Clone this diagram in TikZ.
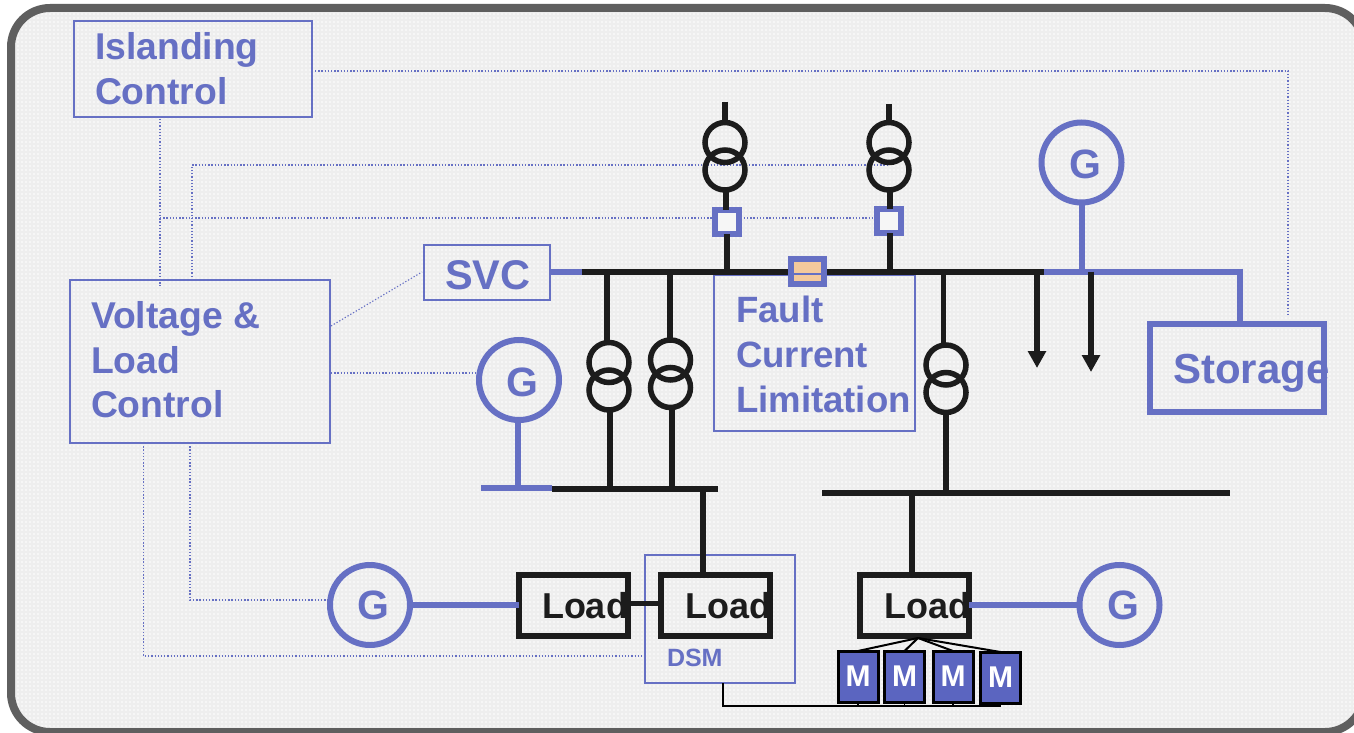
\documentclass[tikz,border=0pt]{standalone}
\usepackage{fontspec}
\setmainfont{Liberation Sans}
\usetikzlibrary{arrows.meta,calc}
\definecolor{bg}{HTML}{F6F6F6}
\definecolor{gridc}{HTML}{EEEEEE}
\definecolor{frameg}{HTML}{5F5F5F}
\definecolor{blu}{HTML}{6670C4}
\definecolor{mfill}{HTML}{5B65C0}
\definecolor{blk}{HTML}{1C1C1C}
\definecolor{org}{HTML}{F5C99C}
\tikzset{
  ctl/.style={draw=blu,line width=1.1pt,dash pattern=on 1.3pt off 1.9pt},
  thinbox/.style={draw=blu,line width=2pt,rectangle,inner sep=0pt,outer sep=0pt},
  txtb/.style={anchor=base west,inner sep=0pt,outer sep=0pt,text=blu,font=\bfseries\fontsize{37.3}{37.3}\selectfont},
  txtf/.style={txtb,font=\bfseries\fontsize{36.6}{36.6}\selectfont},
  txtc/.style={anchor=center,inner sep=0pt,outer sep=0pt,text=blu,font=\bfseries\fontsize{41}{41}\selectfont},
  txtk/.style={anchor=base west,inner sep=0pt,outer sep=0pt,text=blk,font=\bfseries\fontsize{36}{36}\selectfont},
  bus/.style={draw=blk,line width=6pt},
  bluebus/.style={draw=blu,line width=6pt},
  feeder/.style={draw=blk,line width=5.5pt},
  coil/.style={draw=blk,line width=5.5pt,circle,minimum size=40pt,inner sep=0pt,outer sep=0pt},
  gen/.style={draw=blu,line width=6pt,circle,minimum size=80pt,inner sep=0pt,outer sep=0pt},
  breaker/.style={draw=blu,line width=6pt,fill=bg,rectangle,minimum size=24pt,inner sep=0pt,outer sep=0pt},
  loadbox/.style={draw=blk,line width=6pt,rectangle,minimum width=109pt,minimum height=61pt,inner sep=0pt,outer sep=0pt},
  motor/.style={draw=black,line width=3pt,fill=mfill,rectangle,minimum width=40pt,minimum height=51pt,inner sep=0pt,outer sep=0pt,text=white,font=\bfseries\fontsize{30}{30}\selectfont},
  thinblack/.style={draw=black,line width=2pt},
  dropline/.style={draw=blk,line width=5.5pt,-{Triangle[width=17.5pt,length=17pt]}}
}
\begin{document}
\begin{tikzpicture}[x=1pt,y=-1pt]
\useasboundingbox (0,0) rectangle (1354,733);
\fill[white] (0,0) rectangle (1354,733);
\begin{scope}
\clip (0,0) rectangle (1354,733);
\fill[bg,rounded corners=39pt] (11,8) rectangle (1364,732);
\begin{scope}
\clip[rounded corners=39pt] (11,8) rectangle (1364,732);
\draw[draw=gridc,line width=1.6pt,xstep=4pt,ystep=4pt] (8,736) grid (1368,4);
\end{scope}
\draw[draw=frameg,line width=8pt,rounded corners=39pt] (11,8) rectangle (1364,732);
\end{scope}

% boxes (thin blue)
\node[thinbox,minimum width=238pt,minimum height=96pt] (isl) at (193,69) {};
\node[thinbox,minimum width=260pt,minimum height=163pt] (vlc) at (200,361.5) {};
\node[thinbox,minimum width=126pt,minimum height=55pt] (svc) at (487,272.5) {};
\node[thinbox,minimum width=201pt,minimum height=156pt] (fcl) at (814.5,353) {};
\node[thinbox,minimum width=150pt,minimum height=128pt] (dsm) at (720,619) {};

% named junctions
\coordinate (ctlA) at (1288,71);
\coordinate (ctlB) at (1288,317);
\coordinate (islOut) at (315,71);
\coordinate (islDown) at (160,119);
\coordinate (vlcIn) at (160,286);
\coordinate (ctlTap) at (160,218);
\coordinate (vlcTop) at (192,280);
\coordinate (ctlC) at (192,165);
\coordinate (ctlD) at (889,165);
\coordinate (vlcSvc) at (331,326);
\coordinate (svcIn) at (422,272);
\coordinate (vlcG) at (331,373);
\coordinate (gIn) at (476,373);
\coordinate (vlcL1) at (190,443);
\coordinate (ctlE) at (190,600);
\coordinate (gLow) at (328,600);
\coordinate (vlcL2) at (143.5,443);
\coordinate (ctlF) at (143.5,656);
\coordinate (dsmIn) at (645,656);

% generators
\node[gen] (g1) at (1081.5,162.5) {};
\node[gen] (g2) at (519,380) {};
\node[gen] (g3) at (370,605) {};
\node[gen] (g4) at (1119.5,605) {};

% control lines
\coordinate (ctlG) at (715,218);
\coordinate (ctlH) at (877,218);
\draw[ctl] (islOut) -- (ctlA) -- (ctlB);
\draw[ctl] (islDown) -- (vlcIn);
\draw[ctl] (ctlTap) -- (ctlG);
\draw[ctl] (ctlG) -- (ctlH);
\draw[ctl] (vlcTop) -- (ctlC) -- (ctlD);
\draw[ctl] (vlcSvc) -- (svcIn);
\draw[ctl] (vlcG) -- (gIn);
\draw[ctl] (vlcL1) -- (ctlE) -- (gLow);
\draw[ctl] (vlcL2) -- (ctlF) -- (dsmIn);

% breakers
\node[breaker] (br1) at (727,222) {};
\node[breaker] (br2) at (889,221) {};

% bus coordinates
\coordinate (busAw) at (582,271.5);
\coordinate (busAe) at (1110,271.5);
\coordinate (svcOut) at (551,271.5);
\coordinate (stoW) at (1044,271.5);
\coordinate (stoC) at (1239.5,271.5);
\coordinate (busBw) at (552,489);
\coordinate (busBe) at (718,489);
\coordinate (blueBw) at (481,488);
\coordinate (blueBe) at (552,488);
\coordinate (busCw) at (822,493);
\coordinate (busCe) at (1230,493);

% transformers
\node[coil] (t1a) at (725,142.5) {};
\node[coil] (t1b) at (725,170) {};
\node[coil] (t2a) at (889,142.5) {};
\node[coil] (t2b) at (889,170) {};
\node[coil] (t3a) at (609,362.5) {};
\node[coil] (t3b) at (609,390) {};
\node[coil] (t4a) at (670.5,360) {};
\node[coil] (t4b) at (670.5,387.5) {};
\node[coil] (t5a) at (946,365) {};
\node[coil] (t5b) at (946,392.5) {};

% upper stubs
\coordinate (u1) at (725,102);
\coordinate (u2) at (889,104);
\draw[feeder] (u1) -- (t1a.north);
\draw[feeder] (u2) -- (t2a.north);
% feeders
\draw[feeder] (726,192) -- (726,210);
\draw[feeder] (br1.south) -- (br1.south |- busAw);
\draw[feeder] (890,192) -- (890,209);
\draw[feeder] (br2.south) ++(1,0) -- (890,271.5);
\draw[feeder] (607,271.5) -- (607,342);
\draw[feeder] (610,411) -- (610,489);
\draw[feeder] (670,271.5) -- (670,339);
\draw[feeder] (672,408) -- (672,489);
\draw[feeder] (943.5,271.5) -- (943.5,344);
\draw[feeder] (946,413) -- (946,493);
\draw[feeder] (703,489) -- (703,572);
\draw[feeder] (912,493) -- (912,572);

% buses
\draw[bus] (busAw) -- (busAe);
\draw[bus] (busBw) -- (busBe);
\draw[bus] (busCw) -- (busCe);
\draw[bluebus] (svcOut) -- (busAw);
\draw[bluebus] (blueBw) -- (blueBe);
\draw[bluebus] (stoW) -- (stoC);
\draw[draw=blu,line width=6pt] (g1.south) -- (g1.south |- stoC);
\draw[draw=blu,line width=6pt] (g2.south) ++(-1,0) -- (518,488);

% load arrows
\coordinate (dr1) at (1037,271.5);
\coordinate (dr1e) at (1037,368);
\coordinate (dr2) at (1091,271.5);
\coordinate (dr2e) at (1091,372);
\draw[dropline] (dr1) -- (dr1e);
\draw[dropline] (dr2) -- (dr2e);

% fault limiter
\node[draw=blu,line width=6pt,fill=org,rectangle,minimum width=33pt,minimum height=25pt,inner sep=0pt,outer sep=0pt] (lim) at (807.5,271.5) {};
\draw[draw=blu,line width=2pt] (lim.west |- 0,274) -- (lim.east |- 0,274);

% storage
\node[draw=blu,line width=6pt,rectangle,minimum width=174pt,minimum height=88pt,inner sep=0pt,outer sep=0pt] (sto) at (1237,368) {};
\draw[draw=blu,line width=6pt] (stoC) ++(0,-3) -- (stoC |- sto.north);

% loads
\node[loadbox] (l1) at (573,605.5) {};
\node[loadbox] (l2) at (715.5,605.5) {};
\node[loadbox] (l3) at (914.5,605.5) {};
\draw[feeder] (l1.east |- 0,603.5) -- (l2.west |- 0,603.5);
\draw[draw=blu,line width=6pt] (g3.east |- 0,604.5) -- (l1.west |- 0,604.5);
\draw[draw=blu,line width=6pt] (l3.east |- 0,605) -- (g4.west |- 0,605);

% motors
\node[motor] (m1) at (858,676.5) {M};
\node[motor] (m2) at (904.5,676.5) {M};
\node[motor] (m3) at (953,676.5) {M};
\node[motor] (m4) at (1000.5,677.5) {M};
\coordinate (fan) at (918,638);
\draw[thinblack] (fan) -- (m1.north);
\draw[thinblack] (fan) -- (m2.north);
\draw[thinblack] (fan) -- (m3.north);
\draw[thinblack] (fan) -- (m4.north);
\coordinate (dsmB) at (723,683);
\coordinate (dsmC) at (723,706);
\coordinate (dsmD) at (1000.5,706);
\draw[draw=black,line width=2.5pt] (dsmB) -- (dsmC) -- (dsmD);
\draw[draw=black,line width=1.5pt] (m1.south) -- (m1.south |- dsmC);
\draw[draw=black,line width=1.5pt] (m2.south) -- (m2.south |- dsmC);
\draw[draw=black,line width=1.5pt] (m3.south) -- (m3.south |- dsmC);
\draw[draw=black,line width=1.5pt] (m4.south) -- (m4.south |- dsmC);

% labels
\node[txtb] (tIsl) at (95,60) {Islanding};
\node[txtb] (tCtl) at (95,105) {Control};
\node[txtb] (tVol) at (91,328) {Voltage \&};
\node[txtb] (tLd) at (91,373) {Load};
\node[txtb] (tCt2) at (91,417) {Control};
\node[txtf] (tFau) at (736,322) {Fault};
\node[txtf] (tCur) at (736,367) {Current};
\node[txtf] (tLim) at (736,412) {Limitation};
\node[txtb,font=\bfseries\fontsize{41.5}{41.5}\selectfont] (tSvc) at (445,289) {SVC};
\node[txtb,font=\bfseries\fontsize{42}{42}\selectfont] (tSto) at (1173,383) {Storage};
\node[txtb,font=\bfseries\fontsize{25}{25}\selectfont] (tDsm) at (667,666) {DSM};
\node[txtc] (tg1) at (1085,164) {G};
\node[txtc] (tg2) at (522,382) {G};
\node[txtc] (tg3) at (373,605) {G};
\node[txtc] (tg4) at (1123,605) {G};
\node[txtk] (tl1) at (542,618) {Load};
\node[txtk] (tl2) at (685,618) {Load};
\node[txtk] (tl3) at (884,618) {Load};
\end{tikzpicture}
\end{document}
